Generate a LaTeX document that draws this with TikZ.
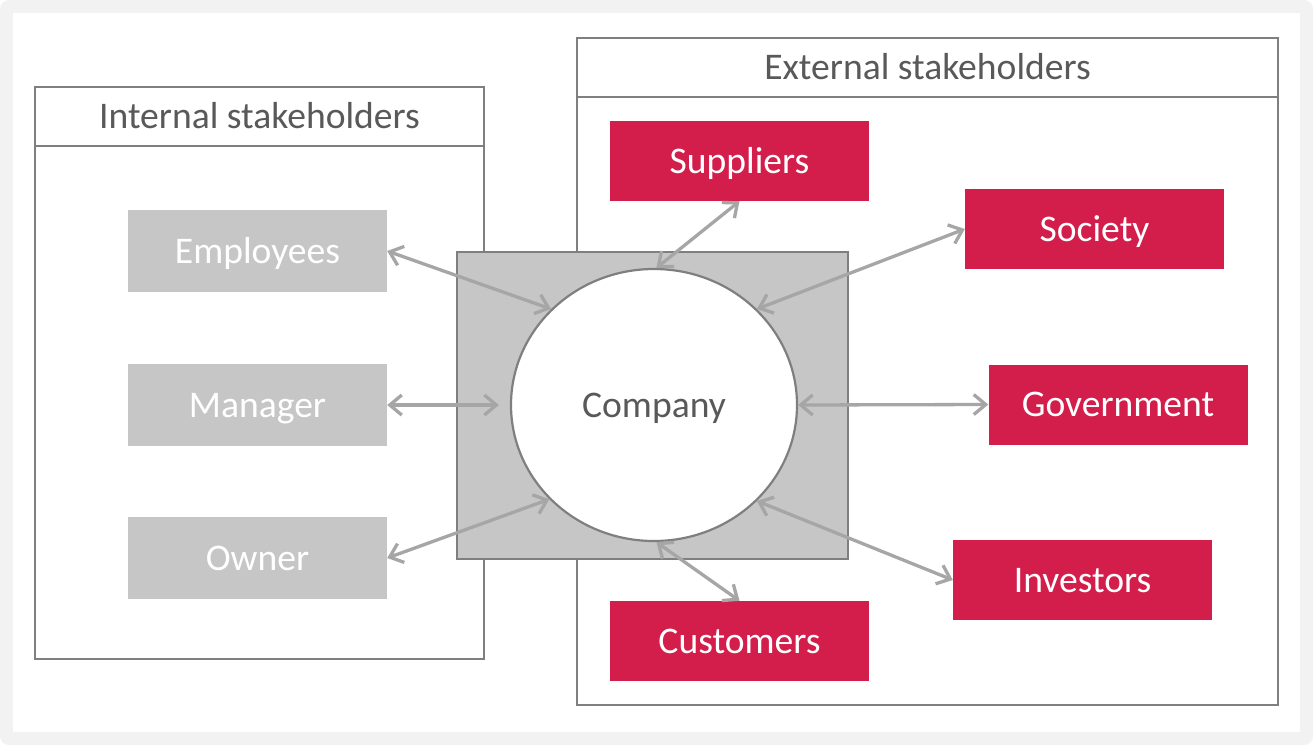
\documentclass[tikz,border=0pt]{standalone}
\usepackage{fontspec}
\setmainfont{Carlito}
\usetikzlibrary{arrows.meta,shapes.geometric}
\definecolor{crim}{HTML}{D31E4B}
\definecolor{boxgray}{HTML}{C6C6C6}
\definecolor{edgegray}{HTML}{7F7F7F}
\definecolor{arrgray}{HTML}{A6A6A6}
\definecolor{txtgray}{HTML}{595959}
\definecolor{bggray}{HTML}{F2F2F2}
\begin{document}
\begin{tikzpicture}[x=1pt,y=-1pt,
  every node/.style={font=\fontsize{37.6}{45}\selectfont, inner sep=0pt, text height=24pt, text depth=0pt},
  grp/.style={draw=edgegray, line width=2.2pt, fill=white},
  hdr/.style={draw=edgegray, line width=2.2pt, fill=white, text=txtgray},
  intbox/.style={fill=boxgray, text=white, minimum width=259pt, minimum height=82pt},
  extbox/.style={fill=crim, text=white, minimum width=259pt, minimum height=80pt},
  link/.style={draw=arrgray, line width=3.3pt, {Straight Barb[length=12pt,width=20pt]}-{Straight Barb[length=12pt,width=20pt]}}
]
\useasboundingbox (0,0) rectangle (1313,745);
\fill[white] (0,0) rectangle (1313,745);
\fill[bggray, rounded corners=9pt] (0,0) rectangle (1313,745);
\fill[white] (13,13) rectangle (1300,732);

% groups
\node[grp, minimum width=701pt, minimum height=667pt] (extgrp) at (927.5,371.5) {};
\node[hdr, minimum width=701pt, minimum height=59pt] (exthdr) at (927.5,67.5) {External stakeholders};
\node[grp, minimum width=449pt, minimum height=572pt] (intgrp) at (259.5,373) {};
\node[hdr, minimum width=449pt, minimum height=59pt] (inthdr) at (259.5,116.5) {Internal stakeholders};

% company
\node[fill=boxgray, draw=edgegray, line width=2.2pt, minimum width=391pt, minimum height=307pt] (sq) at (652.5,405.5) {};
\node[ellipse, fill=white, draw=edgegray, line width=2.2pt, minimum width=286pt, minimum height=272pt, text=txtgray] (comp) at (654,405) {Company};

% internal stakeholders
\node[intbox] (emp) at (257.5,251) {Employees};
\node[intbox] (man) at (257.5,405) {Manager};
\node[intbox] (own) at (257.5,558) {Owner};

% external stakeholders
\node[extbox] (sup) at (739.5,161) {Suppliers};
\node[extbox] (soc) at (1094.5,229) {Society};
\node[extbox] (gov) at (1118,404.5) {Government};
\node[extbox] (inv) at (1082.5,580) {Investors};
\node[extbox] (cus) at (739.5,641) {Customers};

% links
\draw[link] (emp.east) -- (comp.137);
\draw[link] (man.east) -- ([xshift=-11pt]comp.west);
\draw[link] (own.east) -- (comp.222);
\draw[link] (sup.south) -- (comp.89);
\draw[link] (soc.west) -- (comp.43);
\draw[link] (gov.west) -- (comp.east);
\draw[link] (inv.west) -- (comp.-43);
\draw[link] (cus.north) -- (comp.-89);
\end{tikzpicture}
\end{document}
